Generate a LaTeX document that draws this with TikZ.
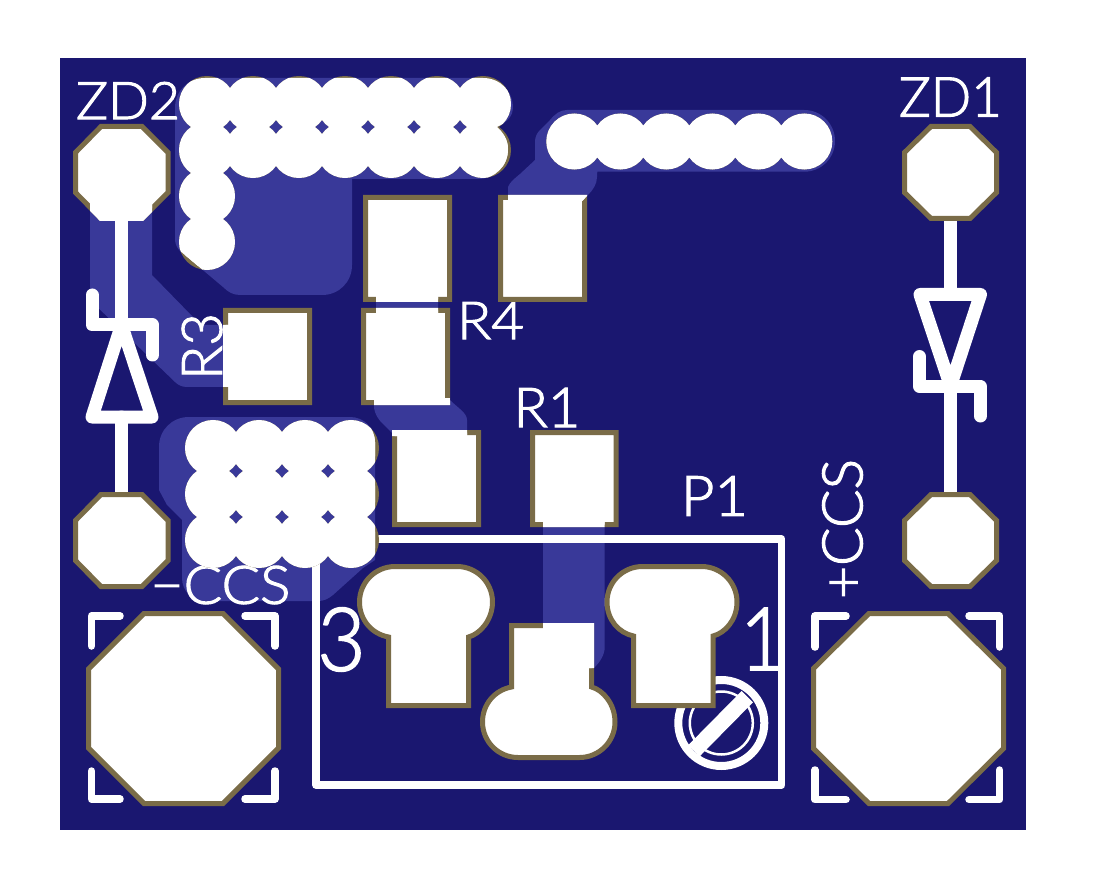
\documentclass[tikz,border=0pt]{standalone}
\usepackage{graphicx}
\usepackage{fontspec}
\newfontfamily\silkfont[FakeBold=2]{Lato Light}
\definecolor{board}{RGB}{26,23,112}
\definecolor{copper}{RGB}{57,57,153}
\definecolor{padrim}{RGB}{122,108,72}
\newcommand\silk[3]{\resizebox{#1pt}{#2pt}{\silkfont #3}}
\tikzset{
  zones/.style={insert path={
    (175,108) .. controls (175,91) and (188,78) .. (205,78) -- (483,78) .. controls (500,78) and (513,91) .. (513,108) .. controls (513,115) and (508,122) .. (497,127) .. controls (503,132) and (508,140) .. (508,149) .. controls (508,166) and (495,179) .. (478,179) -- (352,179) -- (352,265) .. controls (352,282) and (339,295) .. (322,295) -- (240,295) .. controls (233,295) and (228,292) .. (223,287) -- (179,250) .. controls (176,246) and (175,243) .. (175,238) -- cycle
    (90,172) -- (152,172) -- (152,275) -- (193,317) -- (202,325) -- (240,325) -- (240,387) -- (187,387) .. controls (182,387) and (178,385) .. (175,382) -- (90,300) -- cycle
    (376,295) rectangle (438,315)
    (374,398) -- (374,408) .. controls (375,414) and (378,419) .. (382,423) -- (392,433) -- (392,436) -- (467,436) -- (467,420) .. controls (467,413) and (458,408) .. (450,400) -- (450,398) -- cycle
    (159,447) .. controls (159,430) and (172,417) .. (189,417) -- (350,417) .. controls (364,417) and (375,428) .. (375,442) -- (375,560) -- (363,568) -- (333,595) .. controls (328,599) and (324,601) .. (318,601) -- (205,601) .. controls (192,601) and (182,591) .. (182,578) -- (182,520) -- (167,505) -- (159,490) -- cycle
    (566.7,110) -- (804.3,110) .. controls (821.5,110) and (835,124) .. (835,141) .. controls (835,158) and (821.5,171.7) .. (804.3,171.7) -- (597.3,171.7) -- (597,177) .. controls (597,184) and (593,190) .. (588,195) -- (582,201) -- (508,201) -- (508,187) .. controls (510,182) and (514,179) .. (520,174) -- (535,160) -- (535,141.7) .. controls (535,137) and (537,133) .. (540,130) -- (550,120) .. controls (555,114) and (560,110) .. (566.7,110) -- cycle
    (543,490) -- (604.7,490) -- (604.7,647) .. controls (604.7,655) and (600,662) .. (593.9,668) -- (543,668) -- cycle
  }},
  pads/.style={insert path={
    (365.5,197.5) rectangle (449.5,299.5)
    (363.5,310.5) rectangle (447.5,402.5)
    (225.5,310.5) rectangle (309.5,402.5)
    (500.5,197.5) rectangle (584.5,299.5)
    (394.5,432.5) rectangle (478.5,524.5)
    (532.5,432.5) rectangle (616,524.5)
    (388.5,705.5) -- (388.5,637) .. controls (372,634) and (359.5,620) .. (359.5,602) .. controls (359.5,582.4) and (375.4,566.5) .. (395,566.5) -- (457,566.5) .. controls (476.6,566.5) and (492.5,582.4) .. (492.5,602) .. controls (492.5,620) and (480,634) .. (468.5,637) -- (468.5,705.5) -- cycle
    (633.5,705.5) -- (633.5,636) .. controls (619,633) and (607,620) .. (607,602) .. controls (607,582.4) and (622.9,566.5) .. (642.5,566.5) -- (701.5,566.5) .. controls (721.1,566.5) and (737,582.4) .. (737,602) .. controls (737,620) and (725,633) .. (713,636) -- (713,705.5) -- cycle
    (511.5,625.5) -- (511.5,687) .. controls (495,690) and (482.5,704) .. (482.5,722) .. controls (482.5,741.6) and (498.4,757.5) .. (518,757.5) -- (579.5,757.5) .. controls (599.1,757.5) and (615,741.6) .. (615,722) .. controls (615,704) and (603,690) .. (591.5,687) -- (591.5,625.5) -- cycle
    (101,126.5) -- (142,126.5) -- (168,152.5) -- (168,192.5) -- (142,218.5) -- (101,218.5) -- (75.5,192.5) -- (75.5,152.5) -- cycle
    (101,494.5) -- (142,494.5) -- (168,520.5) -- (168,560.5) -- (142,586.5) -- (101,586.5) -- (75.5,560.5) -- (75.5,520.5) -- cycle
    (931,126.5) -- (970,126.5) -- (996.5,152.5) -- (996.5,192.5) -- (970,218.5) -- (931,218.5) -- (904.5,192.5) -- (904.5,152.5) -- cycle
    (931,494.5) -- (970,494.5) -- (996.5,520.5) -- (996.5,560.5) -- (970,586.5) -- (931,586.5) -- (904.5,560.5) -- (904.5,520.5) -- cycle
    (144,613.5) -- (223,613.5) -- (278.5,669) -- (278.5,748) -- (223,803.5) -- (144,803.5) -- (88.5,748) -- (88.5,669) -- cycle
    (869,613.5) -- (948,613.5) -- (1003.5,668.5) -- (1003.5,748.5) -- (948,803.5) -- (869,803.5) -- (813.5,748.5) -- (813.5,668.5) -- cycle
    \foreach \px in {207,253,299,345,391,437,483} {(\px,104) circle[radius=25.5pt] (\px,150) circle[radius=25.5pt]}
    (207,196) circle[radius=25.5pt] (207,242) circle[radius=25.5pt]
    \foreach \px in {213,259,305,351} {(\px,448) circle[radius=25.5pt] (\px,494) circle[radius=25.5pt] (\px,540) circle[radius=25.5pt]}
    \foreach \px in {574.3,620.3,666.3,712.3,758.3,804.3} {(\px,141.5) circle[radius=25.5pt]}
  }},
  silkline/.style={draw=white,line width=7.5pt,line cap=round,line join=round},
  diode/.style={draw=white,line width=13pt,line cap=round,line join=round},
  label/.style={text=white,inner sep=0pt,outer sep=0pt}
}
\begin{document}
\begin{tikzpicture}[x=1pt,y=-1pt]
\useasboundingbox (0,0) rectangle (1117,877);
\fill[white] (0,0) rectangle (1117,877);
\fill[board] (60,58) rectangle (1026,830);
\fill[copper,zones];
% silkscreen
\draw[silkline] (316,539) rectangle (781.7,785);
\draw[silkline] (91.5,646) -- (91.5,616) -- (120,616);
\draw[silkline] (245,616) -- (275,616) -- (275,646);
\draw[silkline] (91.5,771) -- (91.5,799) -- (120,799);
\draw[silkline] (245,799) -- (275,799) -- (275,771);
\draw[silkline] (815,647) -- (815,616) -- (846,616);
\draw[silkline] (969,616) -- (999.7,616) -- (999.7,647);
\draw[silkline] (815,770) -- (815,799.7) -- (846,799.7);
\draw[silkline] (969,799.7) -- (999.7,799.7) -- (999.7,770);
\draw[diode] (121.5,221) -- (121.5,325);
\draw[diode] (121.5,417) -- (121.5,492);
\draw[diode] (121.5,325) -- (152,417) -- (92,417) -- cycle;
\draw[diode] (92,295) -- (92,325) -- (152.5,325) -- (152.5,355);
\draw[diode] (950.5,221) -- (950.5,294.5);
\draw[diode] (950.5,386) -- (950.5,492);
\draw[diode] (920,294.5) -- (980.5,294.5) -- (950.5,386) -- cycle;
\draw[diode] (919.5,356.5) -- (919.5,386.3) -- (980.3,386.3) -- (980.3,416);
\draw[draw=white,line width=8pt] (721.3,723) circle[radius=43pt];
\draw[draw=white,line width=2.5pt] (721.3,723) circle[radius=31.5pt];
\draw[draw=white,line width=16pt] (694,750.7) -- (747.3,696.7);
% texts
\node[label] (zd2) at (128,100.5) {\silk{104}{37}{ZD2}};
\node[label] (zd1) at (950.5,97) {\silk{103}{39}{ZD1}};
\node[label] (r4) at (490.5,320.5) {\silk{67}{37}{R4}};
\node[label,rotate=90] (r3) at (202,346.5) {\silk{67}{40}{R3}};
\node[label] (r1) at (547,407.5) {\silk{67}{39}{R1}};
\node[label] (p1) at (714.5,496) {\silk{67}{39.7}{P1}};
\node[label] (mccs) at (220.5,585) {\silk{140}{38}{−CCS}};
\node[label,rotate=90] (pccs) at (842.5,529) {\silk{140}{40}{+CCS}};
\node[label] (pin3) at (341.5,639.5) {\silk{48}{63}{3}};
\node[label] (pin1) at (763,639) {\silk{46}{62}{1}};
% pads
\path[fill=white,draw=padrim,line width=5pt,pads];
\begin{scope}
\clip[zones];
\path[fill=white,draw=white,line width=5pt,pads];
\end{scope}
\end{tikzpicture}
\end{document}
